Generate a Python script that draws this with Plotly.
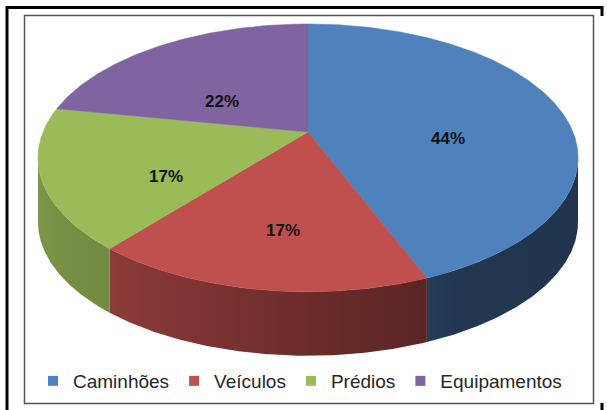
import numpy as np
import plotly.graph_objects as go

# ---------------- data ----------------
categories = ["Caminhões", "Veículos", "Prédios", "Equipamentos"]
values = [44, 17, 17, 22]
colors = ["#4F81BD", "#C0504D", "#9BBB59", "#8064A2"]

# ---------------- geometry / style of the tilted pie (pixels) ----------------
W, H = 607, 410
CX, CY = 308.0, 132.0
RX, RY = 265.0, 128.9
PERSP = 0.193
DEPTH = 64.0
LABEL_R = 0.55
LABEL_DY = 20.0
SIDE_FROM, SIDE_TO = 100.0, 260.0
shade_angles = [90, 150, 160, 220, 270]
shade_factors = [0.40, 0.42, 0.47, 0.74, 0.83]


def project(theta_deg, r=1.0):
    t = np.radians(theta_deg)
    X = r * np.sin(t)
    Z = r * np.cos(t)
    s = 1.0 / (1.0 + PERSP * Z)
    return CX + RX * X * s, CY - RY * Z * s


def hex_rgb(h):
    h = h.lstrip("#")
    return [int(h[i:i + 2], 16) for i in (0, 2, 4)]


def shade(h, f):
    r, g, b = [max(0, min(255, int(round(c * f)))) for c in hex_rgb(h)]
    return f"rgb({r},{g},{b})"


total = float(sum(values))
bounds = np.concatenate([[0.0], np.cumsum(values) / total * 360.0])

fig = go.Figure()

# side walls (front, visible part) with horizontal gradient
for i in range(len(values)):
    a0, a1 = bounds[i], bounds[i + 1]
    lo, hi = max(a0, SIDE_FROM), min(a1, SIDE_TO)
    if hi <= lo:
        continue
    ts = np.linspace(lo, hi, max(4, int((hi - lo) * 2)))
    xt, yt = project(ts)
    xs = np.concatenate([xt, xt[::-1]])
    ys = np.concatenate([yt, yt[::-1] + DEPTH])
    xmin, xmax = float(xt.min()), float(xt.max())
    samp = np.linspace(lo, hi, 12)
    sx, _ = project(samp)
    pos = (sx - xmin) / (xmax - xmin)
    order = np.argsort(pos)
    cscale = []
    last = -1.0
    for k in order:
        p = float(min(1.0, max(0.0, pos[k])))
        if p <= last:
            continue
        cscale.append([p, shade(colors[i], float(np.interp(samp[k], shade_angles, shade_factors)))])
        last = p
    cscale[0][0] = 0.0
    cscale[-1][0] = 1.0
    fig.add_trace(go.Scatter(
        x=xs, y=ys, fill="toself", mode="lines",
        fillgradient=dict(type="horizontal", colorscale=cscale, start=xmin, stop=xmax),
        line=dict(width=0), hoverinfo="skip", showlegend=False))

# top faces
for i in range(len(values)):
    a0, a1 = bounds[i], bounds[i + 1]
    ts = np.linspace(a0, a1, max(3, int((a1 - a0) * 2)))
    xt, yt = project(ts)
    xs = np.concatenate([[CX], xt, [CX]])
    ys = np.concatenate([[CY], yt, [CY]])
    fig.add_trace(go.Scatter(
        x=xs, y=ys, fill="toself", fillcolor=colors[i], mode="lines",
        line=dict(color=colors[i], width=0.5), hoverinfo="skip", showlegend=False))

# legend entries
for name, col in zip(categories, colors):
    fig.add_trace(go.Scatter(
        x=[None], y=[None], mode="markers", name=name,
        marker=dict(symbol="square", size=10, color=col)))

# percentage labels
annotations = []
for i, v in enumerate(values):
    mid = (bounds[i] + bounds[i + 1]) / 2
    lx, ly = project(mid, LABEL_R)
    annotations.append(dict(
        x=float(lx), y=float(ly + LABEL_DY), xref="x", yref="y",
        text=f"<b>{round(v / total * 100)}%</b>", showarrow=False,
        font=dict(family="Liberation Sans, Arial, sans-serif", size=17, color="#111111")))

shapes = [
    dict(type="rect", xref="x", yref="y", x0=24.5, y0=15.5, x1=593.5, y1=403.5,
         line=dict(color="#555555", width=1.5), layer="below"),
    dict(type="path", xref="x", yref="y", path="M 7,410 L 7,7.5 L 602,7.5 L 602,16",
         line=dict(color="black", width=3)),
    dict(type="line", xref="x", yref="y", x0=602, y0=403, x1=602, y1=410,
         line=dict(color="black", width=3)),
]

fig.update_layout(
    width=W, height=H, autosize=False,
    margin=dict(l=0, r=0, t=0, b=0),
    paper_bgcolor="white", plot_bgcolor="white",
    xaxis=dict(range=[0, W], visible=False, fixedrange=True),
    yaxis=dict(range=[H, 0], visible=False, fixedrange=True),
    showlegend=True,
    legend=dict(orientation="h", x=33 / W, xanchor="left", y=1 - 381 / H, yanchor="middle",
                font=dict(family="Liberation Sans, Arial, sans-serif", size=19, color="#262626"),
                bgcolor="rgba(0,0,0,0)"),
    annotations=annotations,
    shapes=shapes,
)

fig.write_html("out.html", config={"displayModeBar": False, "staticPlot": True},
               post_script="document.body.style.margin='0';document.body.style.overflow='hidden';")
